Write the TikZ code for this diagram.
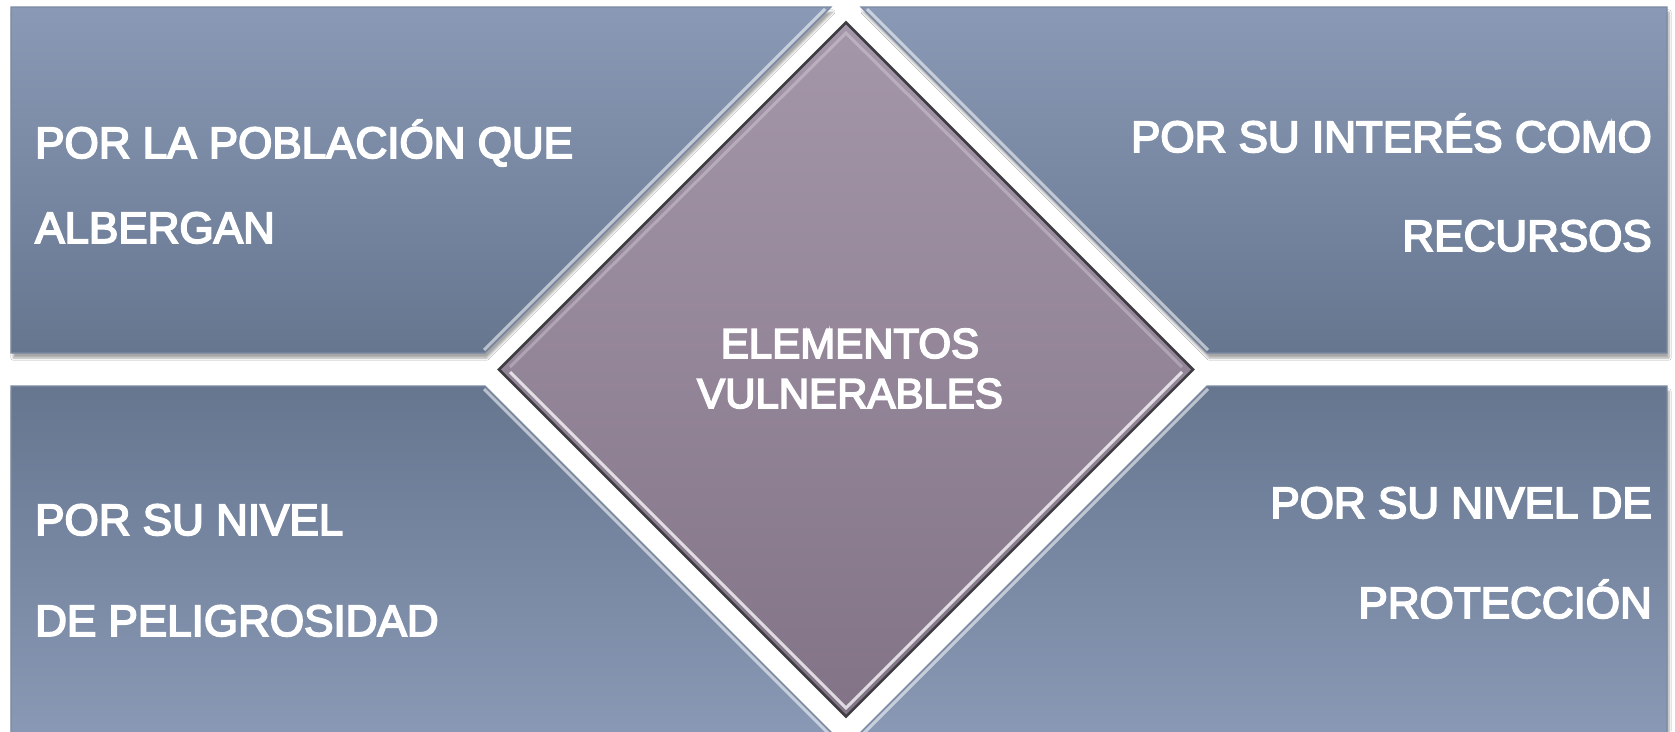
\documentclass[tikz,border=0pt]{standalone}
\usepackage{fontspec}
\setmainfont{Liberation Sans}
\newfontfamily\rotulo{Liberation Sans}[FakeBold=4]
\usetikzlibrary{shadows.blur}

\definecolor{panelclaro}{HTML}{8A9AB6}
\definecolor{paneloscuro}{HTML}{66768F}
\definecolor{panelborde}{HTML}{7C8AA2}
\definecolor{romboclaro}{HTML}{A597AA}
\definecolor{rombooscuro}{HTML}{827387}
\definecolor{bordeoscuro}{HTML}{3E3E42}

\tikzset{
    panel/.style={draw=panelborde, line width=1.2pt,
        blur shadow={shadow xshift=2pt, shadow yshift=-5pt, shadow opacity=35, shadow blur steps=6}},
    brillo/.style={draw=white, opacity=0.55, line width=3pt},
    etiqueta/.style={text=white, inner sep=0pt, font=\rotulo\fontsize{44}{50}\selectfont},
    central/.style={text=white, inner sep=0pt, font=\rotulo\fontsize{42}{50}\selectfont}
}

\begin{document}
\begin{tikzpicture}[x=1pt, y=-1pt]
    \useasboundingbox[fill=white] (0,0) rectangle (1675,731);

    % four panels
    \path[panel, top color=panelclaro, bottom color=paneloscuro]
        (11,7) -- (831,7) -- (485,353) -- (11,353) -- cycle;
    \path[panel, top color=panelclaro, bottom color=paneloscuro]
        (861,7) -- (1667,7) -- (1667,353) -- (1207,353) -- cycle;
    \path[panel, top color=paneloscuro, bottom color=panelclaro]
        (11,386) -- (485,386) -- (839,740) -- (11,740) -- cycle;
    \path[panel, top color=paneloscuro, bottom color=panelclaro]
        (1207,386) -- (1667,386) -- (1667,740) -- (853,740) -- cycle;

    \draw[brillo] (825,9) -- (484,350);
    \draw[brillo] (867,9) -- (1208,350);
    \draw[brillo] (484,389) -- (832,737);
    \draw[brillo] (1208,389) -- (860,737);

    % diamond
    \draw[white, line width=10pt] (846,22.5) -- (1193,369.5) -- (846,716.5) -- (499,369.5) -- cycle;
    \path[draw=bordeoscuro, line width=2.5pt, top color=romboclaro, bottom color=rombooscuro]
        (846,22.5) -- (1193,369.5) -- (846,716.5) -- (499,369.5) -- cycle;
    \draw[white, opacity=0.75, line width=3pt] (1182,372) -- (846,708) -- (510,372);
    \draw[white, opacity=0.25, line width=3pt] (510,367) -- (846,33) -- (1182,367);

    \node[etiqueta, anchor=base west] (poblacion) at (35,158) {POR LA POBLACIÓN QUE};
    \node[etiqueta, anchor=base west] (albergan) at (35,243) {ALBERGAN};
    \node[etiqueta, anchor=base east] (interes) at (1652,152) {POR SU INTERÉS COMO};
    \node[etiqueta, anchor=base east] (recursos) at (1652,251) {RECURSOS};
    \node[etiqueta, anchor=base west] (nivel) at (35,535) {POR SU NIVEL};
    \node[etiqueta, anchor=base west] (peligro) at (35,636) {DE PELIGROSIDAD};
    \node[etiqueta, anchor=base east] (nivelde) at (1652,518) {POR SU NIVEL DE};
    \node[etiqueta, anchor=base east] (proteccion) at (1652,618) {PROTECCIÓN};

    \node[central, anchor=base] (elementos) at (850,358) {ELEMENTOS};
    \node[central, anchor=base] (vulnerables) at (850,408) {VULNERABLES};
\end{tikzpicture}
\end{document}
